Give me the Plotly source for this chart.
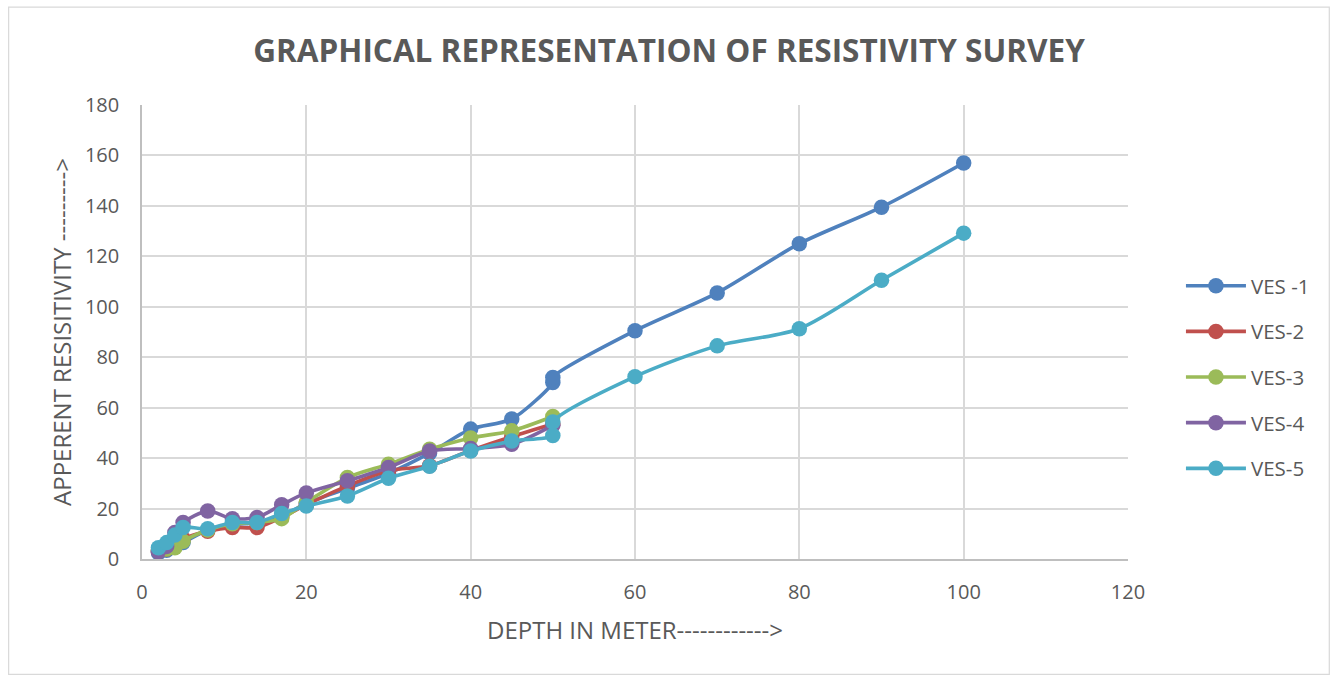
import plotly.graph_objects as go

depth_short = [2, 3, 4, 5, 8, 11, 14, 17, 20, 25, 30, 35, 40, 45, 50]
depth_long = [2, 3, 4, 5, 8, 11, 14, 17, 20, 25, 30, 35, 40, 45, 50, 50, 60, 70, 80, 90, 100]

ves1 = [2.5, 3.5, 5, 6.5, 11.5, 13.5, 14.5, 17, 22, 28, 34, 42, 51.5, 55.5, 70, 72, 90.5, 105.5, 125, 139.5, 157]
ves2 = [3, 4, 6, 8, 11, 12.5, 12.5, 16.5, 21.5, 29, 35, 37, 43, 48.5, 53.5]
ves3 = [3.5, 4, 4.5, 7, 11.5, 14, 14.5, 16, 22.5, 32.3, 37.6, 43.5, 48, 50.8, 56.5]
ves4 = [3, 5, 10.5, 14.5, 19, 16, 16.5, 21.5, 26.2, 31, 36.3, 42.8, 43.8, 45.5, 53]
ves5 = [4.5, 6.5, 9.5, 12.5, 12, 14.5, 14.5, 18, 21, 25, 32, 36.8, 42.8, 46.8, 49, 54.3, 72.3, 84.5, 91.3, 110.5, 129.2]

names = ["VES -1", "VES-2", "VES-3", "VES-4", "VES-5"]
colors = ["#4F81BD", "#C0504D", "#9BBB59", "#8064A2", "#4BACC6"]
xs = [depth_long, depth_short, depth_short, depth_short, depth_long]
ys = [ves1, ves2, ves3, ves4, ves5]

x_ticks = [0, 20, 40, 60, 80, 100, 120]
y_ticks = [0, 20, 40, 60, 80, 100, 120, 140, 160, 180]

FONT = "Open Sans"
GREY = "#595959"

fig = go.Figure()
for i, (n, c, x, y) in enumerate(zip(names, colors, xs, ys)):
    fig.add_trace(go.Scatter(
        x=x, y=y, name=n, mode="lines+markers",
        line=dict(color=c, width=3.6, shape="spline", smoothing=0.8),
        marker=dict(color=c, size=15.5),
        legendgroup=str(i),
    ))

fig.update_layout(
    width=1338, height=681,
    margin=dict(l=141.5, r=209.5, t=105, b=121.5),
    paper_bgcolor="white", plot_bgcolor="white",
    font=dict(family=FONT, color=GREY, size=20),
    title=dict(text="<b>GRAPHICAL REPRESENTATION OF RESISTIVITY SURVEY</b>",
               x=0.5, xanchor="center", y=0.925, yanchor="middle",
               font=dict(family=FONT, size=31.5, color=GREY)),
    xaxis=dict(range=[0, 120], tickvals=x_ticks, ticktext=[str(v) for v in x_ticks],
               showgrid=True, gridcolor="#D9D9D9", gridwidth=1.5,
               showline=True, linecolor="#BFBFBF", linewidth=1.5,
               zeroline=False, ticks="", ticklabelstandoff=14,
               title=dict(text="DEPTH IN METER------------>", font=dict(size=24, color=GREY), standoff=18),
               tickfont=dict(size=20, color=GREY)),
    yaxis=dict(range=[0, 180], tickvals=y_ticks, ticktext=[str(v) for v in y_ticks],
               showgrid=True, gridcolor="#D9D9D9", gridwidth=1.5,
               showline=True, linecolor="#BFBFBF", linewidth=1.5,
               zeroline=False, ticks="", ticklabelstandoff=17,
               title=dict(text="APPERENT RESISITIVITY --------->", font=dict(size=24, color=GREY), standoff=7),
               tickfont=dict(size=20, color=GREY)),
    legend=dict(x=1.0537, xanchor="left", y=0.4, yanchor="middle",
                font=dict(size=20.5, color=GREY), tracegroupgap=16,
                itemwidth=60, bgcolor="rgba(0,0,0,0)"),
    showlegend=True,
    shapes=[dict(type="rect", xref="paper", yref="paper",
                 x0=(8 - 141.5) / 987, x1=(1330 - 141.5) / 987,
                 y0=(559.5 - 675) / 454.5, y1=(559.5 - 7) / 454.5,
                 line=dict(color="#D9D9D9", width=1.2), fillcolor="rgba(0,0,0,0)",
                 layer="below")],
)

fig.write_html("out.html")
